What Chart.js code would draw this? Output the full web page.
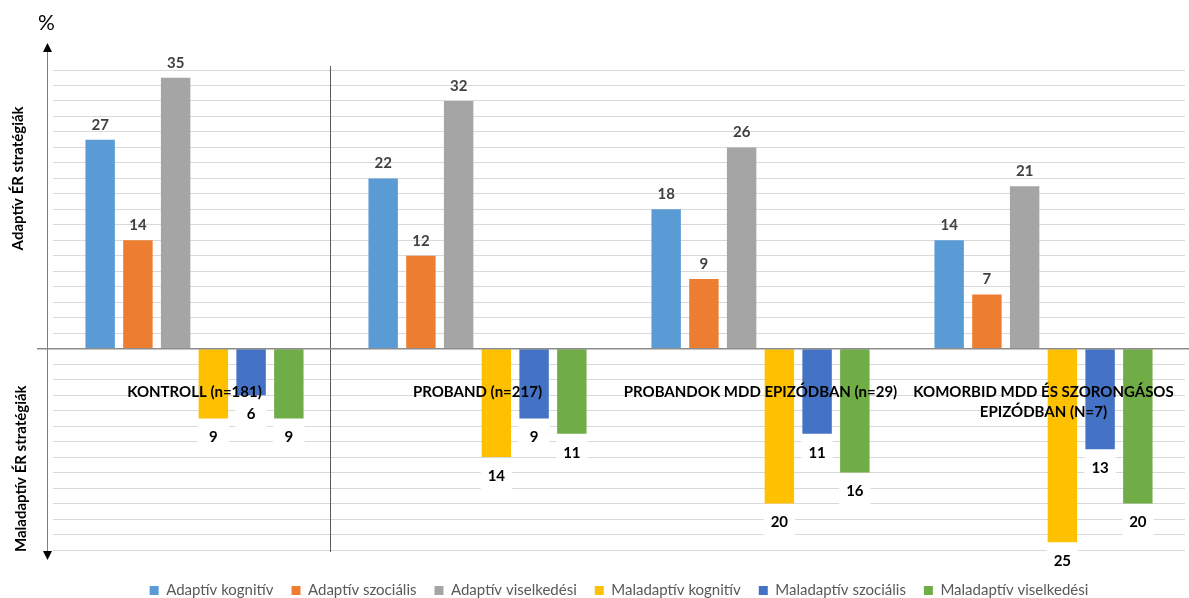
<!DOCTYPE html>
<html>
<head>
<meta charset="utf-8">
<script src="https://cdn.jsdelivr.net/npm/chart.js@4"></script>
<style>
  html, body { margin: 0; padding: 0; background: #ffffff; overflow: hidden; }
  #wrap { position: relative; width: 1189px; height: 608px; }
</style>
</head>
<body>
<div id="wrap"><canvas id="c"></canvas></div>
<script>
// ---- data ----
const categories = [
  ['KONTROLL (n=181)'],
  ['PROBAND (n=217)'],
  ['PROBANDOK MDD EPIZÓDBAN (n=29)'],
  ['KOMORBID MDD ÉS SZORONGÁSOS', 'EPIZÓDBAN (N=7)']
];
const seriesNames = [
  'Adaptív kognitív', 'Adaptív szociális', 'Adaptív viselkedési',
  'Maladaptív kognitív', 'Maladaptív szociális', 'Maladaptív viselkedési'
];
const adaptivKognitiv = [27, 22, 18, 14];
const adaptivSzocialis = [14, 12, 9, 7];
const adaptivViselkedesi = [35, 32, 26, 21];
const maladaptivKognitiv = [-9, -14, -20, -25];
const maladaptivSzocialis = [-6, -9, -11, -13];
const maladaptivViselkedesi = [-9, -11, -16, -20];
const seriesColors = ['#5B9BD5', '#ED7D31', '#A5A5A5', '#FFC000', '#4472C4', '#70AD47'];
const yAxisTitleUp = 'Adaptív ÉR stratégiák';
const yAxisTitleDown = 'Maladaptív ÉR stratégiák';
const unitLabel = '%';
const yMin = -26, yMax = 36, yStep = 2;

const allSeries = [adaptivKognitiv, adaptivSzocialis, adaptivViselkedesi,
  maladaptivKognitiv, maladaptivSzocialis, maladaptivViselkedesi];

const FONT = 'Lato, "Open Sans", sans-serif';

const decorPlugin = {
  id: 'decor',
  afterDraw(chart) {
    const ctx = chart.ctx;
    const ca = chart.chartArea;
    const xs = chart.scales.x, ys = chart.scales.y;
    const y0 = ys.getPixelForValue(0);
    ctx.save();
    // category separator (between first and second group)
    const sep = Math.round((xs.getPixelForValue(0) + xs.getPixelForValue(1)) / 2 - 6) + 0.5;
    ctx.strokeStyle = '#595959';
    ctx.lineWidth = 1;
    ctx.beginPath();
    ctx.moveTo(sep, ca.top - 4);
    ctx.lineTo(sep, ca.bottom + 2);
    ctx.stroke();
    // zero line
    ctx.strokeStyle = '#8c8c8c';
    ctx.lineWidth = 1.5;
    ctx.beginPath();
    ctx.moveTo(ca.left - 16, y0);
    ctx.lineTo(chart.width, y0);
    ctx.stroke();
    // vertical arrow axis
    const ax = ca.left - 6 + 0.5;
    ctx.strokeStyle = '#7f7f7f';
    ctx.lineWidth = 1;
    ctx.beginPath();
    ctx.moveTo(ax, ca.top - 19);
    ctx.lineTo(ax, ca.bottom + 2);
    ctx.stroke();
    ctx.fillStyle = '#000000';
    ctx.beginPath();
    ctx.moveTo(ax, ca.top - 27);
    ctx.lineTo(ax - 4.5, ca.top - 18);
    ctx.lineTo(ax + 4.5, ca.top - 18);
    ctx.closePath();
    ctx.fill();
    ctx.beginPath();
    ctx.moveTo(ax, ca.bottom + 10);
    ctx.lineTo(ax - 4.5, ca.bottom + 1);
    ctx.lineTo(ax + 4.5, ca.bottom + 1);
    ctx.closePath();
    ctx.fill();
    // % label
    ctx.font = '21px ' + FONT;
    ctx.textAlign = 'center';
    ctx.textBaseline = 'middle';
    ctx.fillText(unitLabel, ax - 1, 23);
    // rotated titles
    ctx.font = 'bold 15px ' + FONT;
    ctx.save();
    ctx.translate(18, ys.getPixelForValue(22));
    ctx.rotate(-Math.PI / 2);
    ctx.fillText(yAxisTitleUp, 0, 0);
    ctx.restore();
    ctx.save();
    ctx.translate(21, ys.getPixelForValue(-15.5));
    ctx.rotate(-Math.PI / 2);
    ctx.fillText(yAxisTitleDown, 0, 0);
    ctx.restore();

    // value labels
    chart.data.datasets.forEach((ds, di) => {
      const meta = chart.getDatasetMeta(di);
      meta.data.forEach((bar, i) => {
        const v = ds.data[i];
        if (v >= 0) {
          ctx.font = 'bold 15px ' + FONT;
          ctx.fillStyle = '#404040';
          ctx.fillText(String(v), bar.x, bar.y - 15);
        } else {
          const cy = bar.y + 19;
          ctx.fillStyle = '#ffffff';
          ctx.fillRect(bar.x - bar.width / 2 - 1, cy - 14, bar.width + 2, 28);
          ctx.font = 'bold 15px ' + FONT;
          ctx.fillStyle = '#000000';
          ctx.fillText(String(-v), bar.x, cy);
        }
      });
    });

    // category labels
    ctx.font = 'bold 15px ' + FONT;
    ctx.fillStyle = '#000000';
    categories.forEach((lines, i) => {
      const cx = xs.getPixelForValue(i);
      lines.forEach((t, k) => {
        ctx.fillText(t, cx, y0 + 43 + k * 20);
      });
    });
    ctx.restore();
  }
};

new Chart(document.getElementById('c'), {
  type: 'bar',
  data: {
    labels: categories.map(c => c.join(' ')),
    datasets: allSeries.map((d, i) => ({
      label: seriesNames[i],
      data: d,
      backgroundColor: seriesColors[i],
      borderWidth: 0
    }))
  },
  options: {
    responsive: true,
    maintainAspectRatio: false,
    animation: false,
    categoryPercentage: 0.8,
    barPercentage: 0.78,
    layout: { padding: { top: 70, left: 53, right: 4, bottom: 0 } },
    scales: {
      x: {
        grid: { display: false },
        border: { display: false },
        ticks: { display: false },
        afterFit(s) { s.height = 15; }
      },
      y: {
        min: yMin,
        max: yMax,
        ticks: { display: false, stepSize: yStep },
        grid: { color: '#d9d9d9', lineWidth: 1, drawTicks: false },
        border: { display: false },
        afterFit(s) { s.width = 0; }
      }
    },
    plugins: {
      legend: {
        position: 'bottom',
        labels: {
          boxWidth: 9,
          boxHeight: 9,
          padding: 18,
          color: '#595959',
          font: { family: FONT, size: 15 }
        }
      },
      tooltip: { enabled: false }
    }
  },
  plugins: [decorPlugin]
});
</script>
</body>
</html>
